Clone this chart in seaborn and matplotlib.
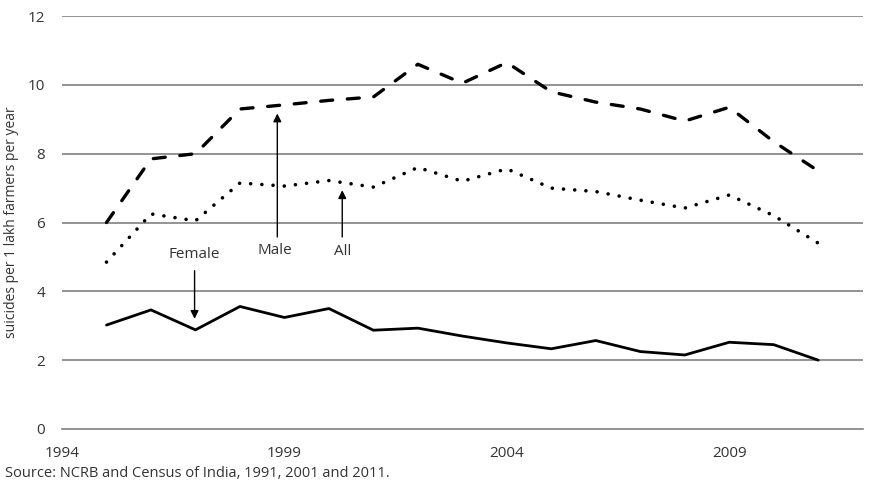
import numpy as np
import pandas as pd
import seaborn as sns
import matplotlib.pyplot as plt

years = list(range(1995, 2012))
male = [6.0, 7.85, 8.0, 9.3, 9.42, 9.55, 9.65, 10.6, 10.05, 10.65, 9.8, 9.5, 9.3, 8.95, 9.35, 8.35, 7.5]
all_farmers = [4.85, 6.25, 6.05, 7.15, 7.06, 7.22, 7.03, 7.6, 7.2, 7.56, 7.0, 6.9, 6.65, 6.42, 6.8, 6.2, 5.4]
female = [3.02, 3.46, 2.88, 3.56, 3.24, 3.5, 2.87, 2.93, 2.7, 2.5, 2.33, 2.57, 2.25, 2.15, 2.52, 2.45, 2.0]

xticks = [1994, 1999, 2004, 2009]
yticks = [0, 2, 4, 6, 8, 10, 12]

sns.set_style("white")
plt.rcParams['font.family'] = ['Open Sans', 'DejaVu Sans']

fig = plt.figure(figsize=(8.76, 4.88), dpi=100)
ax = fig.add_axes([0.0708, 0.121, 0.914, 0.846])

grid_col = '#808080'
txt_col = '#333333'
for y in yticks[1:]:
    ax.axhline(y, color=grid_col, lw=1.2, zorder=0)

sns.lineplot(x=years, y=male, ax=ax, color='black', lw=2.4,
             linestyle=(0, (3.6, 4.4)), dash_capstyle='round')
sns.lineplot(x=years, y=all_farmers, ax=ax, color='black', lw=2.6,
             linestyle=(0, (0.01, 3.1)), dash_capstyle='round')
sns.lineplot(x=years, y=female, ax=ax, color='black', lw=2.0)

ax.set_xlim(1994, 2012)
ax.set_ylim(0, 12)
ax.set_xticks(xticks)
ax.set_yticks(yticks)
for s in ['top', 'right', 'left']:
    ax.spines[s].set_visible(False)
ax.spines['bottom'].set_color(grid_col)
ax.spines['bottom'].set_linewidth(1.2)
ax.tick_params(axis='x', direction='out', length=7, width=1.2, color=grid_col,
               labelsize=11, labelcolor=txt_col, pad=5)
ax.tick_params(axis='y', length=0, labelsize=11, labelcolor=txt_col, pad=12)
ax.set_ylabel('suicides per 1 lakh farmers per year', fontsize=10, color=txt_col)
ax.yaxis.set_label_coords(-0.054, 0.5)

arrow = dict(arrowstyle='-|>', color='black', lw=1.0, mutation_scale=12)
ax.annotate('', xy=(1996.98, 3.12), xytext=(1996.98, 4.68), arrowprops=arrow)
ax.text(1996.98, 5.06, 'Female', ha='center', va='center', fontsize=11, color=txt_col)
ax.annotate('', xy=(1998.84, 9.25), xytext=(1998.84, 5.5), arrowprops=arrow)
ax.text(1998.78, 5.2, 'Male', ha='center', va='center', fontsize=11, color=txt_col)
ax.annotate('', xy=(2000.3, 7.02), xytext=(2000.3, 5.5), arrowprops=arrow)
ax.text(2000.3, 5.15, 'All', ha='center', va='center', fontsize=11, color=txt_col)

fig.text(0.006, 0.015, 'Source: NCRB and Census of India, 1991, 2001 and 2011.',
         fontsize=10.5, color=txt_col, ha='left', va='bottom')

fig.savefig('out.png', dpi=100)
